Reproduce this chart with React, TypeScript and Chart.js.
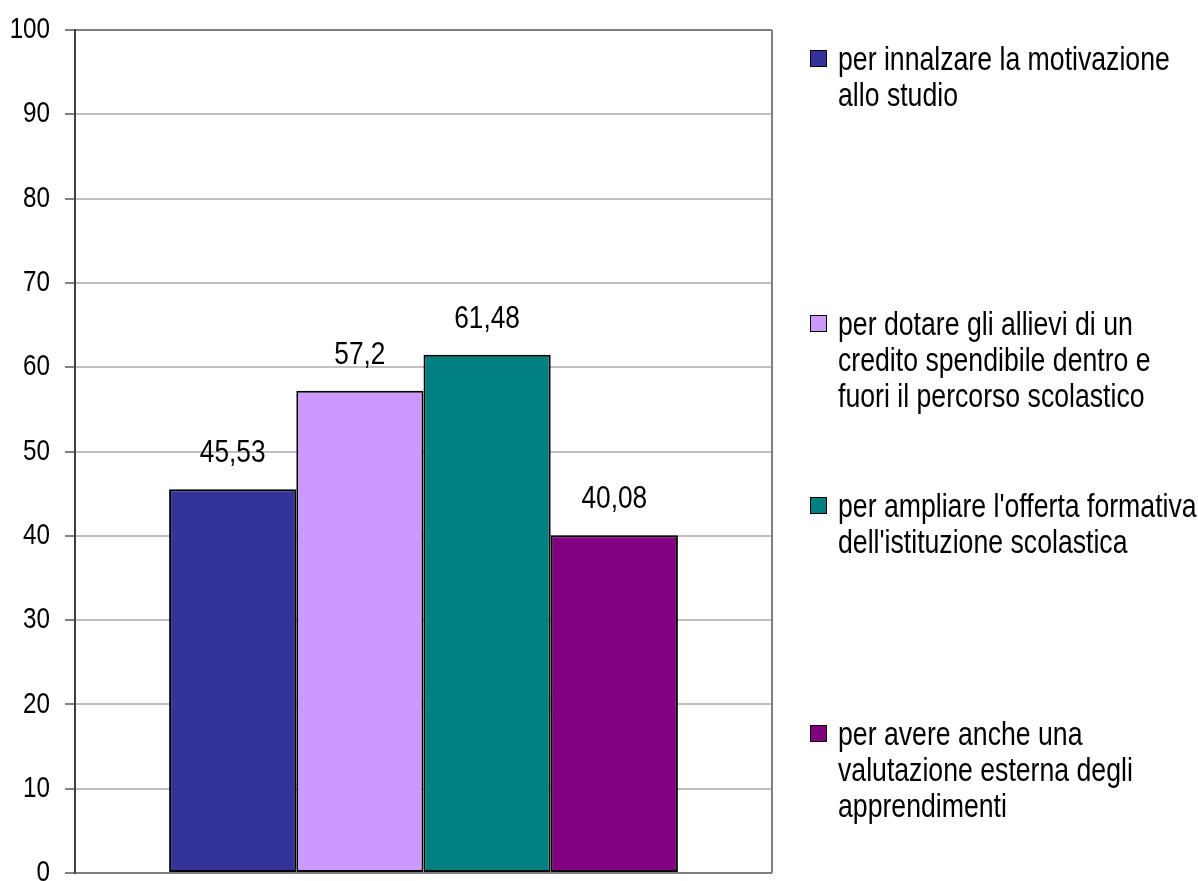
import React, { useEffect, useRef } from "react";
import { Chart, registerables } from "chart.js";

Chart.register(...registerables);

const categories: string[] = [""];
const seriesNames: string[] = [
  "per innalzare la motivazione allo studio",
  "per dotare gli allievi di un credito spendibile dentro e fuori il percorso scolastico",
  "per ampliare l'offerta formativa dell'istituzione scolastica",
  "per avere anche una valutazione esterna degli apprendimenti",
];
const legendLines: string[][] = [
  ["per innalzare la motivazione", "allo studio"],
  ["per dotare gli allievi di un", "credito spendibile dentro e", "fuori il percorso scolastico"],
  ["per ampliare l'offerta formativa", "dell'istituzione scolastica"],
  ["per avere anche una", "valutazione esterna degli", "apprendimenti"],
];
const seriesValues: number[] = [45.53, 57.2, 61.48, 40.08];
const seriesColors: string[] = ["#333399", "#CC99FF", "#008080", "#800080"];
const yMin = 0;
const yMax = 100;
const yStep = 10;

const FONT = "'Liberation Sans', Arial, sans-serif";
const NARROW = 0.82;
const legendTops = [41, 306, 488, 716];

function drawNarrow(ctx: CanvasRenderingContext2D, text: string, x: number, y: number, align: CanvasTextAlign) {
  ctx.save();
  ctx.translate(x, y);
  ctx.scale(NARROW, 1);
  ctx.textAlign = align;
  ctx.fillText(text, 0, 0);
  ctx.restore();
}

const narrowText = {
  id: "narrowText",
  afterDraw(chart: any) {
    const ctx = chart.ctx;
    ctx.save();
    ctx.fillStyle = "#000";
    ctx.textBaseline = "middle";
    // y tick labels
    const y = chart.scales.y;
    ctx.font = `29.5px ${FONT}`;
    y.ticks.forEach((t: any) => {
      drawNarrow(ctx, String(t.value), y.right - 25, y.getPixelForValue(t.value), "right");
    });
    // value labels
    ctx.font = `32px ${FONT}`;
    chart.data.datasets.forEach((ds: any, i: number) => {
      const meta = chart.getDatasetMeta(i);
      meta.data.forEach((bar: any, j: number) => {
        const v = ds.data[j];
        drawNarrow(ctx, String(v).replace(".", ","), bar.x, bar.y - 36, "center");
      });
    });
    ctx.restore();
  },
};

const plotBorder = {
  id: "plotBorder",
  afterDraw(chart: any) {
    const { ctx, chartArea } = chart;
    ctx.save();
    ctx.strokeStyle = "#808080";
    ctx.lineWidth = 2;
    ctx.beginPath();
    ctx.moveTo(chartArea.right, chartArea.top);
    ctx.lineTo(chartArea.right, chartArea.bottom);
    ctx.stroke();
    ctx.restore();
  },
};

export default function App() {
  const ref = useRef<HTMLCanvasElement | null>(null);
  useEffect(() => {
    if (!ref.current) return;
    const chart = new Chart(ref.current, {
      type: "bar",
      data: {
        labels: categories,
        datasets: seriesNames.map((name, i) => ({
          label: name,
          data: [seriesValues[i]],
          backgroundColor: seriesColors[i],
          borderColor: "#000000",
          borderWidth: 2,
          borderSkipped: false,
        })),
      },
      options: {
        responsive: false,
        animation: false,
        layout: { padding: { left: 0, top: 30, right: 426, bottom: 27 } },
        plugins: {
          legend: { display: false },
          tooltip: { enabled: false },
        },
        datasets: {
          bar: { categoryPercentage: 0.73, barPercentage: 1 },
        },
        scales: {
          x: {
            display: false,
          },
          y: {
            min: yMin,
            max: yMax,
            ticks: {
              stepSize: yStep,
              display: false,
            },
            grid: {
              color: (c: any) =>
                c.tick && (c.tick.value === yMin || c.tick.value === yMax) ? "#808080" : "#c0c0c0",
              lineWidth: 2,
              tickLength: 10,
              tickColor: "#808080",
            },
            border: { color: "#404040", width: 2 },
            afterFit: (scale: any) => {
              scale.width = 75;
            },
          },
        },
      },
      plugins: [narrowText, plotBorder],
    } as any);
    return () => chart.destroy();
  }, []);

  return (
    <div
      style={{
        position: "fixed",
        left: 0,
        top: 0,
        width: 1198,
        height: 881,
        overflow: "hidden",
        background: "#fff",
      }}
    >
      <canvas ref={ref} width={1198} height={900} style={{ display: "block" }} />
      {legendLines.map((lines, i) => (
        <div
          key={i}
          style={{
            position: "absolute",
            left: 810,
            top: legendTops[i],
            fontFamily: FONT,
            fontSize: 32.5,
            lineHeight: "36px",
            color: "#000",
            whiteSpace: "nowrap",
          }}
        >
          <span
            style={{
              position: "absolute",
              left: 0,
              top: 9,
              width: 15,
              height: 15,
              background: seriesColors[i],
              border: "1.5px solid #000",
            }}
          />
          <div style={{ marginLeft: 28, transform: `scaleX(${NARROW})`, transformOrigin: "0 0" }}>
            {lines.map((l, k) => (
              <div key={k}>{l}</div>
            ))}
          </div>
        </div>
      ))}
    </div>
  );
}
